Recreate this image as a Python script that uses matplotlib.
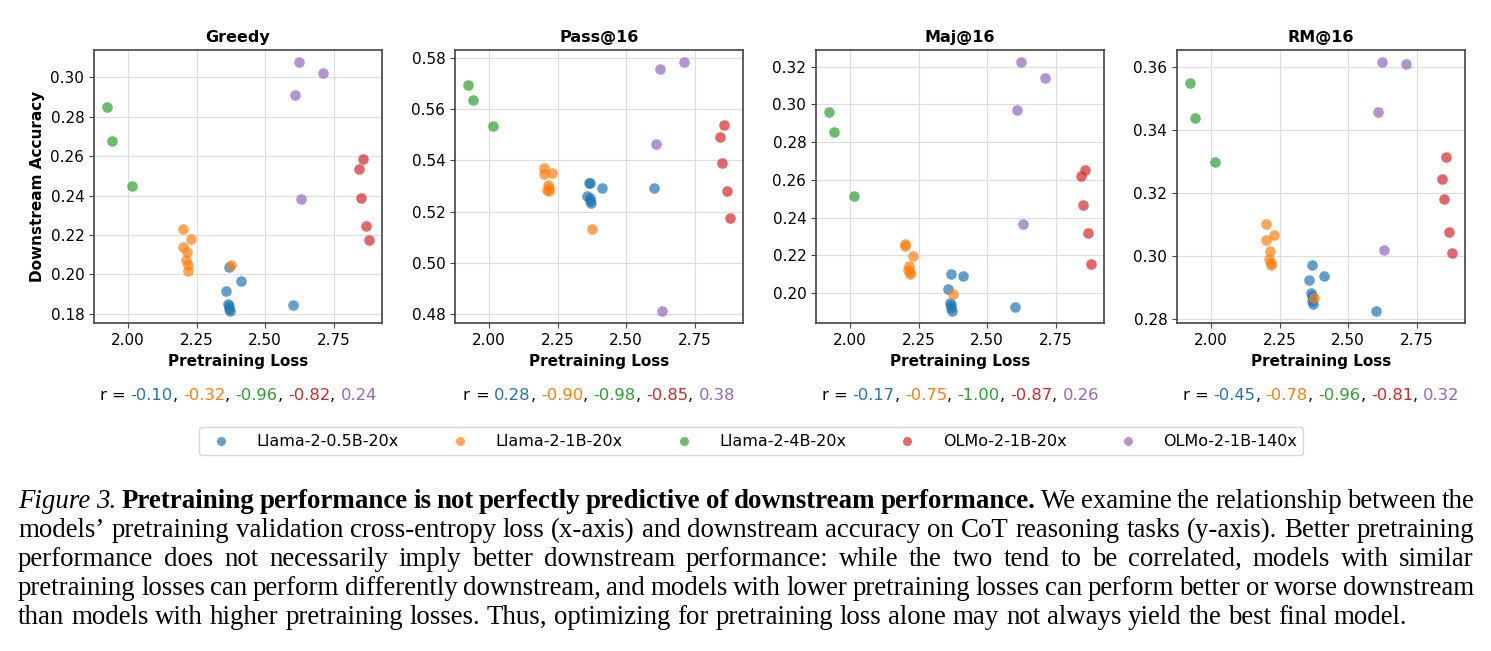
import matplotlib
matplotlib.use('Agg')
import matplotlib.pyplot as plt
from matplotlib.transforms import IdentityTransform
from matplotlib.ticker import MultipleLocator, FormatStrFormatter

W, H, DPI = 1491, 651, 100

panels = ['Greedy', 'Pass@16', 'Maj@16', 'RM@16']
models = ['Llama-2-0.5B-20x', 'Llama-2-1B-20x', 'Llama-2-4B-20x', 'OLMo-2-1B-20x', 'OLMo-2-1B-140x']
colors = ['#1f77b4', '#ff7f0e', '#2ca02c', '#d62728', '#9467bd']

# pretraining loss per checkpoint (same across panels)
loss_05b = [2.356, 2.368, 2.366, 2.370, 2.368, 2.372, 2.4135, 2.601]
loss_1b = [2.2018, 2.2286, 2.199, 2.216, 2.213, 2.2175, 2.2175, 2.377]
loss_4b = [1.924, 1.941, 2.015]
loss_olmo20 = [2.855, 2.841, 2.848, 2.866, 2.878]
loss_olmo140 = [2.622, 2.711, 2.609, 2.630]
losses = [loss_05b, loss_1b, loss_4b, loss_olmo20, loss_olmo140]

# downstream accuracy per panel
greedy_05b = [0.1915, 0.2039, 0.1850, 0.1840, 0.1822, 0.1814, 0.1964, 0.1843]
greedy_1b = [0.2230, 0.2179, 0.2139, 0.2112, 0.2073, 0.2047, 0.2017, 0.2047]
greedy_4b = [0.2849, 0.2677, 0.2450]
greedy_olmo20 = [0.2584, 0.2533, 0.2389, 0.2244, 0.2173]
greedy_olmo140 = [0.3076, 0.3020, 0.2909, 0.2381]

pass_05b = [0.5260, 0.5312, 0.5310, 0.5251, 0.5240, 0.5232, 0.5293, 0.5291]
pass_1b = [0.5368, 0.5349, 0.5346, 0.5303, 0.5283, 0.5280, 0.5290, 0.5131]
pass_4b = [0.5694, 0.5634, 0.5533]
pass_olmo20 = [0.5538, 0.5490, 0.5391, 0.5282, 0.5174]
pass_olmo140 = [0.5757, 0.5781, 0.5465, 0.4813]

maj_05b = [0.2021, 0.2102, 0.1947, 0.1935, 0.1920, 0.1905, 0.2088, 0.1926]
maj_1b = [0.2259, 0.2198, 0.2247, 0.2141, 0.2124, 0.2110, 0.2101, 0.1993]
maj_4b = [0.2960, 0.2856, 0.2515]
maj_olmo20 = [0.2653, 0.2619, 0.2466, 0.2318, 0.2154]
maj_olmo140 = [0.3223, 0.3142, 0.2972, 0.2367]

rm_05b = [0.2922, 0.2972, 0.2882, 0.2872, 0.2856, 0.2847, 0.2937, 0.2825]
rm_1b = [0.3102, 0.3065, 0.3049, 0.3014, 0.2991, 0.2977, 0.2970, 0.2866]
rm_4b = [0.3547, 0.3437, 0.3297]
rm_olmo20 = [0.3312, 0.3244, 0.3180, 0.3075, 0.3008]
rm_olmo140 = [0.3613, 0.3608, 0.3456, 0.3018]

accs = [
    [greedy_05b, greedy_1b, greedy_4b, greedy_olmo20, greedy_olmo140],
    [pass_05b, pass_1b, pass_4b, pass_olmo20, pass_olmo140],
    [maj_05b, maj_1b, maj_4b, maj_olmo20, maj_olmo140],
    [rm_05b, rm_1b, rm_4b, rm_olmo20, rm_olmo140],
]

r_greedy = ['-0.10', '-0.32', '-0.96', '-0.82', '0.24']
r_pass = ['0.28', '-0.90', '-0.98', '-0.85', '0.38']
r_maj = ['-0.17', '-0.75', '-1.00', '-0.87', '0.26']
r_rm = ['-0.45', '-0.78', '-0.96', '-0.81', '0.32']
r_values = [r_greedy, r_pass, r_maj, r_rm]

caption_lines = [
    [("Figure 3.", 'i'), ("Pretraining performance is not perfectly predictive of downstream performance.", 'b'),
     ("We examine the relationship between the", 'n')],
    [("models\u2019 pretraining validation cross-entropy loss (x-axis) and downstream accuracy on CoT reasoning tasks (y-axis). Better pretraining", 'n')],
    [("performance does not necessarily imply better downstream performance: while the two tend to be correlated, models with similar", 'n')],
    [("pretraining losses can perform differently downstream, and models with lower pretraining losses can perform better or worse downstream", 'n')],
    [("than models with higher pretraining losses. Thus, optimizing for pretraining loss alone may not always yield the best final model.", 'n')],
]

plt.rcParams['font.family'] = ['DejaVu Sans']
fig = plt.figure(figsize=(W / DPI, H / DPI), dpi=DPI)
renderer = fig.canvas.get_renderer()

ax_left = [94, 455, 816, 1177]
ax_w, ax_top, ax_bot = 288, 50, 323.3

for p, name in enumerate(panels):
    ax = fig.add_axes([ax_left[p] / W, 1 - ax_bot / H, ax_w / W, (ax_bot - ax_top) / H])
    ax.set_axisbelow(True)
    ax.grid(True, color='#dddddd', linewidth=0.8)
    for m in range(len(models)):
        ax.scatter(losses[m], accs[p][m], s=58, color=colors[m], alpha=0.7, linewidths=0,
                   label=models[m], zorder=3)
    ax.set_title(name, fontsize=11.5, fontweight='bold')
    ax.set_xlabel('Pretraining Loss', fontsize=11, fontweight='bold')
    if p == 0:
        ax.set_ylabel('Downstream Accuracy', fontsize=11, fontweight='bold')
    ax.xaxis.set_major_locator(MultipleLocator(0.25))
    ax.xaxis.set_major_formatter(FormatStrFormatter('%.2f'))
    ax.yaxis.set_major_locator(MultipleLocator(0.02))
    ax.yaxis.set_major_formatter(FormatStrFormatter('%.2f'))
    ax.tick_params(labelsize=11, color='#444444')
    for sp in ax.spines.values():
        sp.set_color('#444444')
        sp.set_linewidth(1.2)
    if p == 0:
        handles, labels = ax.get_legend_handles_labels()


def measure(s, **kw):
    t = fig.text(0, 0, s, transform=IdentityTransform(), **kw)
    w = t.get_window_extent(renderer).width
    t.remove()
    return w


def build_runs(line, style_kw):
    runs = []
    for seg, st in line:
        for word in seg.split():
            if runs:
                runs.append((' ', None, {}))
            runs.append((word, 'black', style_kw[st]))
    return runs


def run_widths(runs, **kw):
    sp = measure('a a', **kw) - measure('aa', **kw)
    widths = []
    for s, c, ek in runs:
        if s == ' ':
            widths.append(None)
        else:
            kk = dict(kw); kk.update(ek)
            widths.append(measure(s, **kk))
    return sp, widths


def draw_runs(runs, x, y_img, ha='left', justify=None, **kw):
    """runs: list of (text, color, extra_kw); text ' ' marks a space."""
    sp, widths = run_widths(runs, **kw)
    nsp = sum(1 for w in widths if w is None)
    solid = sum(w for w in widths if w is not None)
    if justify is not None and nsp:
        sp = (justify - solid) / nsp
    total = solid + nsp * sp
    cx = x - total / 2 if ha == 'center' else x
    for (s, c, ek), w in zip(runs, widths):
        if w is None:
            cx += sp
            continue
        kk = dict(kw); kk.update(ek)
        fig.text(cx, H - y_img, s, color=c, transform=IdentityTransform(), ha='left', va='baseline', **kk)
        cx += w


# correlation lines under each panel
for p in range(len(panels)):
    runs = [('r', 'black', {}), (' ', None, {}), ('=', 'black', {}), (' ', None, {})]
    for m, rv in enumerate(r_values[p]):
        runs.append((rv, colors[m], {}))
        if m < len(models) - 1:
            runs.append((',', 'black', {}))
            runs.append((' ', None, {}))
    draw_runs(runs, ax_left[p] + ax_w / 2, 400, ha='center', fontsize=11.8)

# legend
fig.legend(handles, labels, loc='center', bbox_to_anchor=(751 / W, 1 - 441 / H), ncol=5,
           fontsize=11.5, markerscale=0.85, columnspacing=2.85, handletextpad=1.2,
           frameon=True, edgecolor='#cccccc', fancybox=True)

# caption (justified), font size fitted so the ragged last line ends where the reference does
style_kw = {'i': {'style': 'italic'}, 'b': {'weight': 'bold'}, 'n': {}}
cap_x0, cap_x1, last_end = 18, 1474, 1410
base = 16.0
sp0, w0 = run_widths(build_runs(caption_lines[-1], style_kw), family='Liberation Serif', fontsize=base)
nat = sum(w for w in w0 if w is not None) + sp0 * sum(1 for w in w0 if w is None)
cap_fs = base * (last_end - cap_x0) / nat
cap_kw = dict(family='Liberation Serif', fontsize=cap_fs)
baselines = [508, 537, 566, 595, 624]
for li, line in enumerate(caption_lines):
    runs = build_runs(line, style_kw)
    just = (cap_x1 - cap_x0) if li < len(caption_lines) - 1 else None
    draw_runs(runs, cap_x0, baselines[li], ha='left', justify=just, **cap_kw)

fig.savefig('out.png', dpi=DPI)
